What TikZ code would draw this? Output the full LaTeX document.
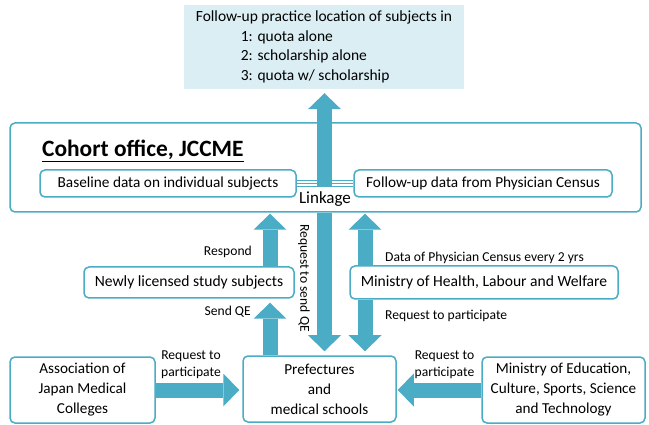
\documentclass[tikz,border=0pt]{standalone}
\usepackage{fontspec}
\setmainfont{Carlito}
\usetikzlibrary{arrows.meta,calc}
\definecolor{ac}{RGB}{75,172,198}
\definecolor{lb}{RGB}{219,238,244}
\pgfdeclarelayer{bg}
\pgfdeclarelayer{mid}
\pgfsetlayers{bg,mid,main}
\begin{document}
\begin{tikzpicture}[x=1pt,y=-1pt,
  box/.style={draw=ac, line width=1.5pt, rounded corners=5pt, fill=white, inner sep=0pt, align=center},
  txt/.style={font=\fontsize{15.2}{20}\selectfont},
  lbl/.style={font=\fontsize{13.6}{17}\selectfont, inner sep=0pt},
  fat/.style={draw=ac, line width=15pt, -{Triangle[width=33pt,length=16pt,line width=0pt]}},
  link/.style={draw=ac, line width=0.9pt}]
\useasboundingbox (0,0) rectangle (649,425);
% output box
\node[fill=lb, minimum width=280, minimum height=84, inner sep=0pt, align=left,
      font=\fontsize{15.5}{19.5}\selectfont] (out) at (324,47)
  {Follow-up practice location of subjects in\\
   \hspace*{45pt}1: quota alone\\
   \hspace*{45pt}2: scholarship alone\\
   \hspace*{45pt}3: quota w/ scholarship};
% cohort office
\begin{pgfonlayer}{bg}
\node[box, minimum width=631, minimum height=89] (coh) at (325.5,167.5) {};
\end{pgfonlayer}
\node[font=\fontsize{23.4}{26}\selectfont\bfseries, anchor=west, inner sep=0pt] (ttl) at (42,151) {\underline{Cohort office, JCCME}};
\node[box, minimum width=256, minimum height=27, font=\fontsize{15.3}{17}\selectfont] (base) at (168,183.5) {Baseline data on individual subjects};
\node[box, minimum width=258, minimum height=27, font=\fontsize{15.3}{17}\selectfont] (fol) at (483,183.5) {Follow-up data from Physician Census};
\coordinate (lk) at ($(base.east)!0.5!(fol.west)$);
\node[font=\fontsize{17}{19}\selectfont, inner sep=0pt] (lkl) at (325,199) {Linkage};
% middle boxes
\node[box, minimum width=210, minimum height=31, font=\fontsize{15.6}{18}\selectfont] (newly) at (189,282.5) {Newly licensed study subjects};
\node[box, minimum width=268, minimum height=33, font=\fontsize{15.6}{18}\selectfont] (mhlw) at (484,282.5) {Ministry of Health, Labour and Welfare};
% bottom boxes
\node[box, txt, minimum width=153, minimum height=66] (pref) at (319.5,389) {Prefectures\\and\\medical schools};
\node[box, txt, minimum width=145, minimum height=66] (assoc) at (82.5,390) {Association of\\Japan Medical\\Colleges};
\node[box, txt, minimum width=163, minimum height=66] (mext) at (563.5,390) {Ministry of Education,\\Culture, Sports, Science\\and Technology};
% column coordinates
\coordinate (cx) at (324.5,0);
\coordinate (lx) at (270,0);
\coordinate (rx) at (365,0);
% arrows
\begin{pgfonlayer}{mid}
\draw[fat, shorten >=4pt] ([yshift=-4pt]lk -| cx) -- (out.south -| cx);
\draw[fat, shorten >=4pt] (coh.south -| cx) -- (pref.north -| cx);
\draw[fat, shorten >=1pt] (newly.north -| lx) -- (coh.south -| lx);
\draw[fat, shorten >=4pt] (pref.north -| lx) -- (newly.south -| lx);
\draw[fat, shorten >=1pt] (mhlw.north -| rx) -- (coh.south -| rx);
\draw[fat, shorten >=4pt] (mhlw.south -| rx) -- (pref.north -| rx);
\draw[fat, shorten >=3pt] (assoc.east) -- (assoc.east -| pref.west);
\draw[fat, shorten >=1pt] (mext.west) -- (mext.west -| pref.east);
\end{pgfonlayer}
% linkage lines
\draw[link] ([yshift=-3pt]base.east) -- ([yshift=-3pt]fol.west);
\draw[link] (base.east) -- (fol.west);
\draw[link] ([yshift=3pt]base.east) -- ([yshift=3pt]fol.west);
% labels
\node[lbl, anchor=east] (l1) at (252,252) {Respond};
\node[lbl, anchor=east] (l2) at (251,312) {Send QE};
\node[lbl, anchor=west] (l3) at (385,258) {Data of Physician Census every 2 yrs};
\node[lbl, anchor=west] (l4) at (385,316) {Request to participate};
\node[lbl, rotate=-90] (l5) at (304,278) {Request to send QE};
\node[lbl, align=center] (l6) at (191,365) {Request to\\participate};
\node[lbl, align=center] (l7) at (444.5,365) {Request to\\participate};
\end{tikzpicture}
\end{document}
